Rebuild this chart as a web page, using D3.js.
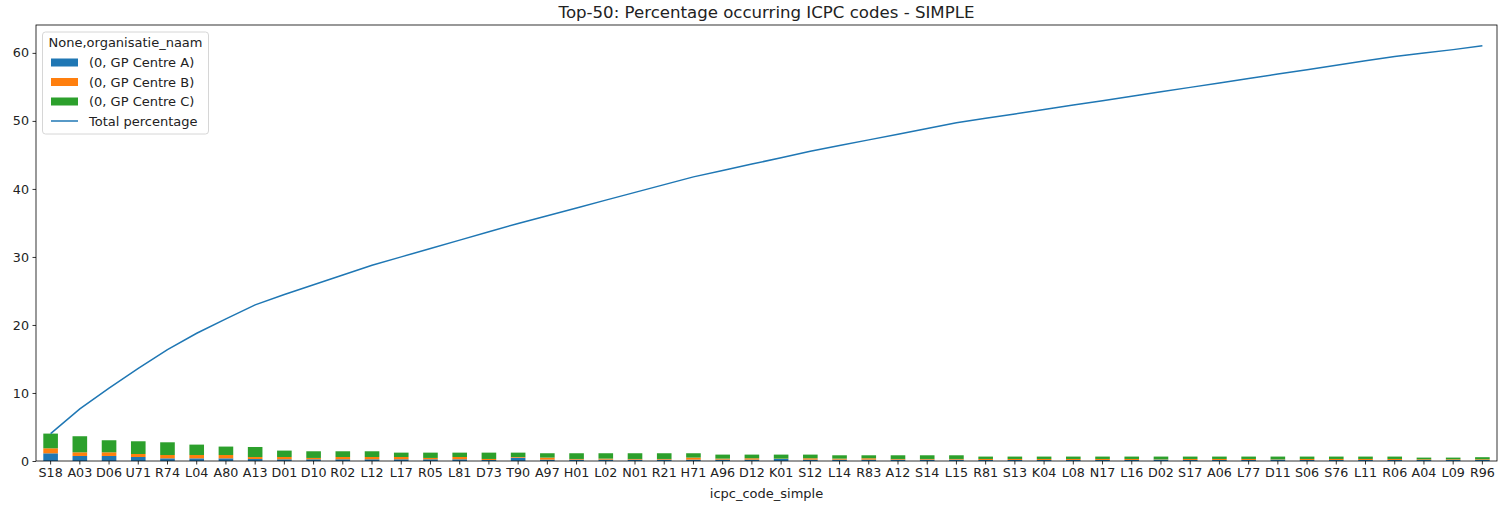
<!DOCTYPE html>
<html><head><meta charset="utf-8">
<script src="https://cdn.jsdelivr.net/npm/d3@7"></script>
<style>body{margin:0;background:#fff}svg{display:block}text{font-family:"DejaVu Sans",sans-serif;fill:#222}</style>
</head><body><svg id="c" width="1511" height="507"></svg>
<script>
const categories = ["S18","A03","D06","U71","R74","L04","A80","A13","D01","D10","R02","L12","L17","R05","L81","D73","T90","A97","H01","L02","N01","R21","H71","A96","D12","K01","S12","L14","R83","A12","S14","L15","R81","S13","K04","L08","N17","L16","D02","S17","A06","L77","D11","S06","S76","L11","R06","A04","L09","R96"];
const centreA = [1.13,0.74,0.74,0.59,0.39,0.39,0.39,0.29,0.25,0.25,0.25,0.25,0.25,0.25,0.25,0.15,0.49,0.2,0.2,0.2,0.2,0.2,0.2,0.2,0.2,0.3,0.2,0.2,0.2,0.2,0.2,0.2,0.15,0.15,0.15,0.15,0.15,0.15,0.2,0.15,0.15,0.15,0.2,0.15,0.15,0.15,0.15,0.15,0.15,0.15];
const centreB = [0.74,0.54,0.54,0.44,0.49,0.49,0.49,0.29,0.34,0.2,0.34,0.34,0.34,0.2,0.34,0.15,0.1,0.3,0.1,0.15,0.1,0.1,0.3,0.15,0.2,0.05,0.2,0.15,0.2,0.1,0.1,0.1,0.15,0.15,0.15,0.15,0.15,0.15,0.05,0.15,0.15,0.15,0.05,0.15,0.15,0.15,0.15,0.1,0.1,0.1];
const centreC = [2.16,2.36,1.77,1.87,1.87,1.53,1.24,1.48,0.94,0.98,0.84,0.84,0.64,0.78,0.64,0.93,0.64,0.64,0.84,0.79,0.84,0.84,0.64,0.59,0.54,0.59,0.54,0.49,0.44,0.54,0.54,0.54,0.35,0.35,0.35,0.35,0.35,0.35,0.40,0.35,0.35,0.35,0.40,0.35,0.35,0.35,0.35,0.25,0.25,0.31];
const totalPercentage = [4.03,7.67,10.72,13.62,16.37,18.78,20.90,22.96,24.49,25.92,27.35,28.78,30.01,31.24,32.47,33.70,34.93,36.07,37.21,38.35,39.49,40.63,41.77,42.71,43.65,44.59,45.53,46.37,47.21,48.05,48.89,49.73,50.38,51.03,51.68,52.33,52.98,53.63,54.28,54.93,55.58,56.23,56.88,57.53,58.18,58.83,59.48,59.98,60.48,61.04];
const seriesNames = ["(0, GP Centre A)","(0, GP Centre B)","(0, GP Centre C)"];
const yTicks = [0,10,20,30,40,50,60];
const colors = ["#1f77b4","#ff7f0e","#2ca02c"];

const svg = d3.select("#c");
const L = 36, R = 1497, T = 25, B = 461;
const x = d3.scaleBand().domain(categories).range([L, R]).paddingInner(0.5).paddingOuter(0.25);
const y = d3.scaleLinear().domain([0, 64.1]).range([B, T]);

const rows = categories.map((c, i) => ({cat: c, a: centreA[i], b: centreB[i], c: centreC[i]}));
const stack = d3.stack().keys(["a","b","c"])(rows);

svg.append("g").selectAll("g").data(stack).join("g")
  .attr("fill", (d, i) => colors[i])
  .selectAll("rect").data(d => d).join("rect")
  .attr("x", d => x(d.data.cat))
  .attr("width", x.bandwidth())
  .attr("y", d => y(d[1]))
  .attr("height", d => y(d[0]) - y(d[1]));

const line = d3.line().x((d, i) => x(categories[i]) + x.bandwidth() / 2).y(d => y(d));
svg.append("path").datum(totalPercentage).attr("d", line)
  .attr("fill", "none").attr("stroke", "#1f77b4").attr("stroke-width", 1.5);

// axes
const xAxis = svg.append("g").attr("transform", `translate(0,${B})`)
  .call(d3.axisBottom(x).tickSize(3.5).tickPadding(3.5).tickSizeOuter(0));
const yAxis = svg.append("g").attr("transform", `translate(${L},0)`)
  .call(d3.axisLeft(y).tickValues(yTicks).tickSize(3.5).tickPadding(3.5).tickSizeOuter(0));
[xAxis, yAxis].forEach(g => {
  g.select(".domain").remove();
  g.selectAll("line").attr("stroke", "#000").attr("stroke-width", 0.8);
  g.selectAll("text").attr("font-size", "12.7px").attr("font-family", "DejaVu Sans").attr("fill", "#222");
});
svg.append("rect").attr("x", L).attr("y", T).attr("width", R - L).attr("height", B - T)
  .attr("fill", "none").attr("stroke", "#000").attr("stroke-width", 0.8);

svg.append("text").attr("x", (L + R) / 2).attr("y", 18).attr("text-anchor", "middle")
  .attr("font-size", "16.6px").text("Top-50: Percentage occurring ICPC codes - SIMPLE");
svg.append("text").attr("x", (L + R) / 2).attr("y", 498).attr("text-anchor", "middle")
  .attr("font-size", "13px").text("icpc_code_simple");

// legend
const lg = svg.append("g");
lg.append("rect").attr("x", 42.5).attr("y", 32).attr("width", 166).attr("height", 102).attr("rx", 3)
  .attr("fill", "#fff").attr("fill-opacity", 0.8).attr("stroke", "#ccc").attr("stroke-width", 0.8);
lg.append("text").attr("x", 125.5).attr("y", 47).attr("text-anchor", "middle").attr("font-size", "13px").text("None,organisatie_naam");
const rowY = [62.5, 82, 101.5, 121];
seriesNames.forEach((n, i) => {
  lg.append("rect").attr("x", 51).attr("y", rowY[i] - 4).attr("width", 27).attr("height", 8).attr("fill", colors[i]);
  lg.append("text").attr("x", 89).attr("y", rowY[i] + 4.5).attr("font-size", "13px").text(n);
});
lg.append("line").attr("x1", 51).attr("x2", 78).attr("y1", rowY[3]).attr("y2", rowY[3]).attr("stroke", "#1f77b4").attr("stroke-width", 1.5);
lg.append("text").attr("x", 89).attr("y", rowY[3] + 4.5).attr("font-size", "13px").text("Total percentage");
</script></body></html>
